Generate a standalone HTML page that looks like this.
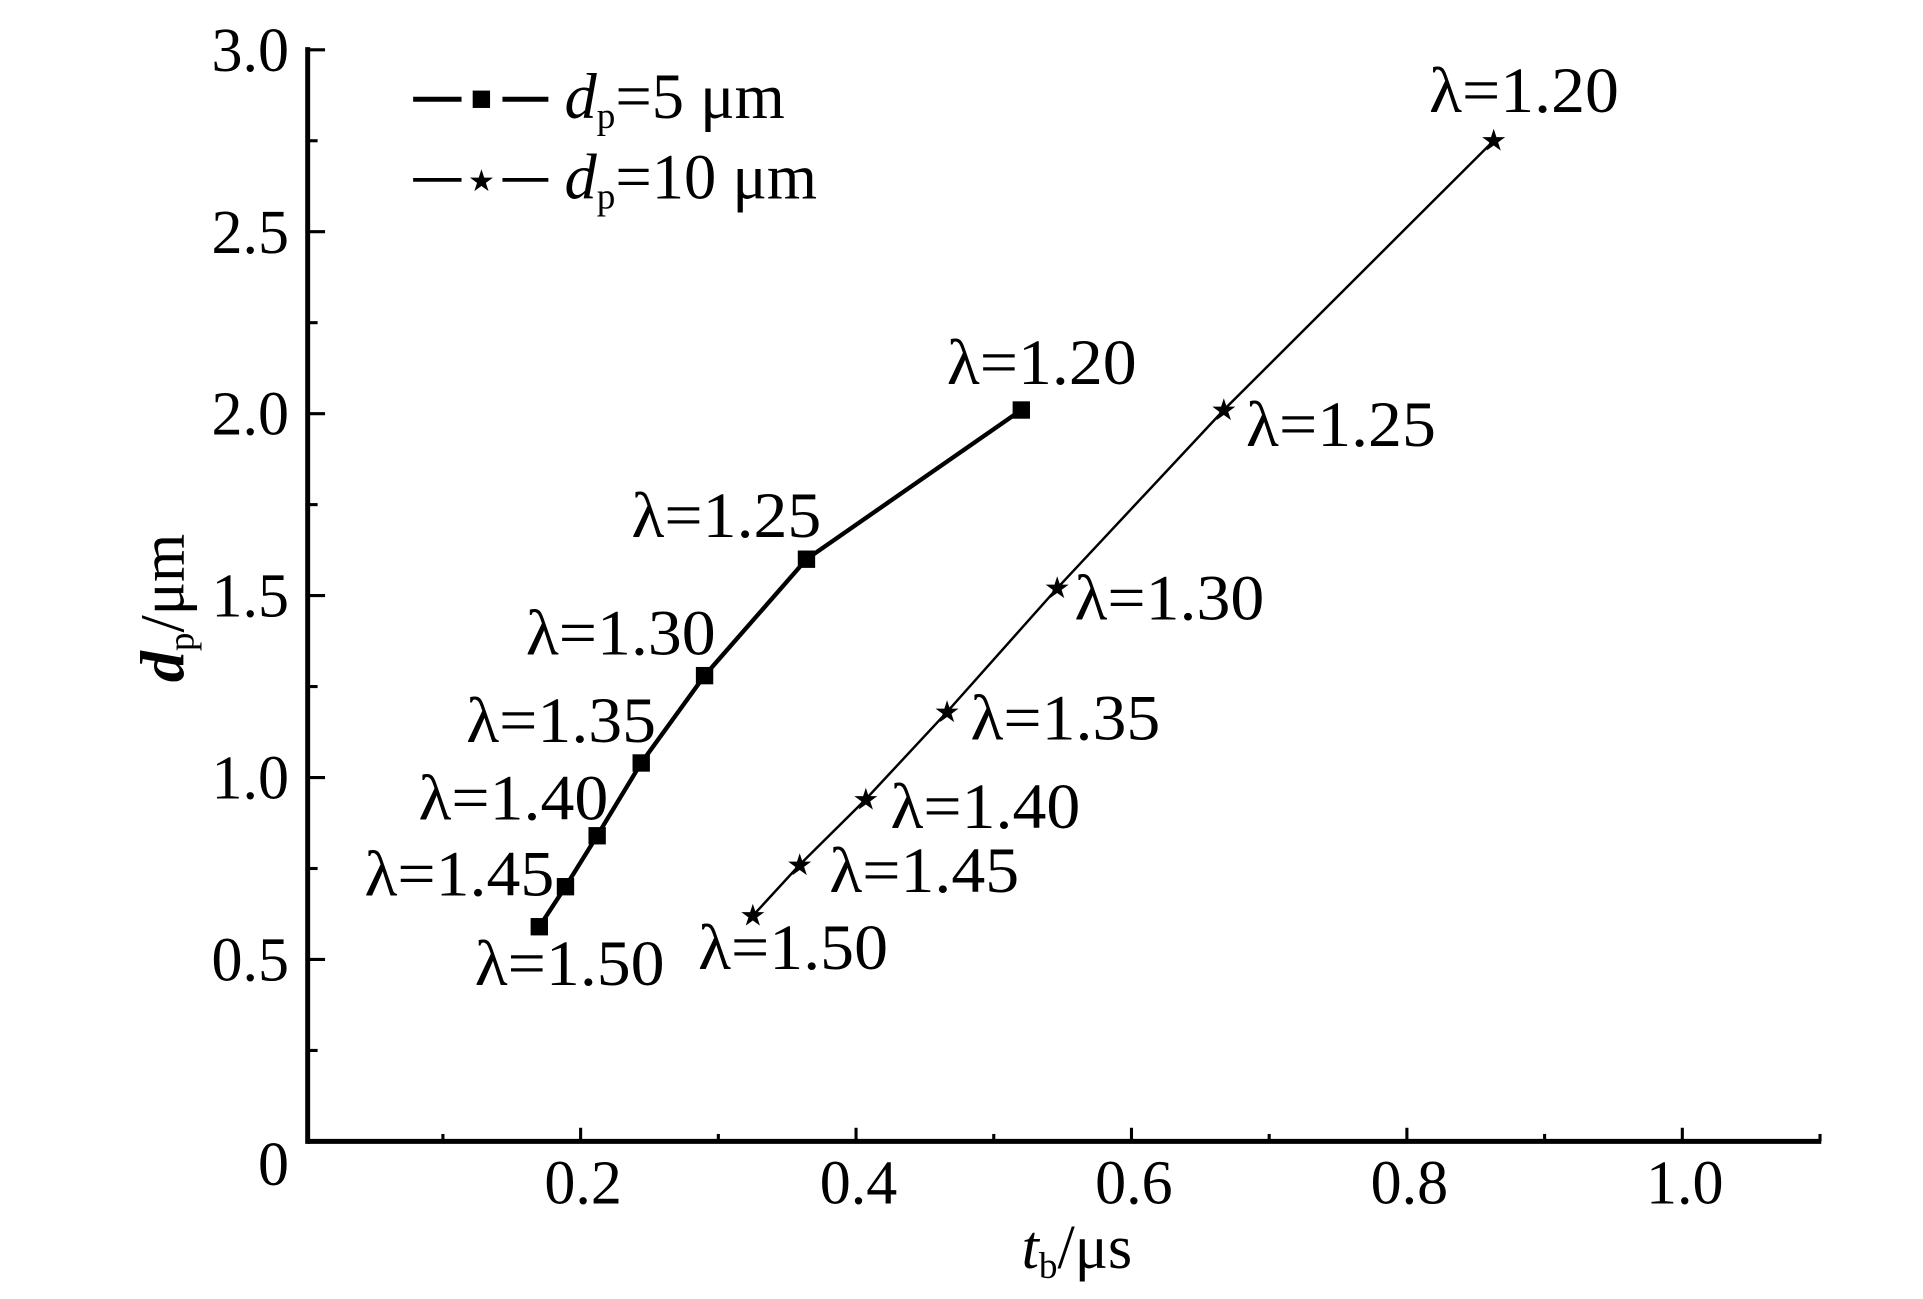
<!DOCTYPE html>
<html><head><meta charset="utf-8"><style>
html,body{margin:0;padding:0;background:#fff;}
svg{display:block;}
text{font-family:"Liberation Serif",serif;fill:#000;}
</style></head><body>
<svg id="chart" width="1923" height="1299" viewBox="0 0 1550 1047" xmlns="http://www.w3.org/2000/svg">
<g id="axes"></g>
<g id="plot"></g>
<g id="legend">
  <line x1="333" y1="80" x2="372" y2="80" stroke="#000" stroke-width="4"/>
  <line x1="405" y1="80" x2="442" y2="80" stroke="#000" stroke-width="4"/>
  <rect x="381" y="73" width="14" height="14" fill="#000"/>
  <text x="455" y="95" font-size="52"><tspan font-style="italic">d</tspan><tspan font-size="30" dy="8">p</tspan><tspan dy="-8">=5 μm</tspan></text>
  <line x1="333" y1="145" x2="372" y2="145" stroke="#000" stroke-width="3"/>
  <line x1="405" y1="145" x2="442" y2="145" stroke="#000" stroke-width="3"/>
  <text x="388" y="154" font-size="24" text-anchor="middle">★</text>
  <text x="455" y="160" font-size="52"><tspan font-style="italic">d</tspan><tspan font-size="30" dy="8">p</tspan><tspan dy="-8">=10 μm</tspan></text>
</g>
<text x="868" y="1022" font-size="50" text-anchor="middle"><tspan font-style="italic">t</tspan><tspan font-size="30" dy="8">b</tspan><tspan dy="-8">/μs</tspan></text>
<text transform="translate(148,490) rotate(-90)" font-size="50" text-anchor="middle"><tspan font-style="italic" font-weight="bold">d</tspan><tspan font-size="30" dy="8">p</tspan><tspan dy="-8">/μm</tspan></text>
</svg>
<script>
const xTicks = [0.2, 0.4, 0.6, 0.8, 1.0];
const xTickLabels = ["0.2", "0.4", "0.6", "0.8", "1.0"];
const yTicks = [0, 0.5, 1.0, 1.5, 2.0, 2.5, 3.0];
const yTickLabels = ["0", "0.5", "1.0", "1.5", "2.0", "2.5", "3.0"];
const lambdas = ["1.50", "1.45", "1.40", "1.35", "1.30", "1.25", "1.20"];
const s1x = [0.170, 0.189, 0.212, 0.244, 0.290, 0.364, 0.520];
const s1y = [0.59, 0.70, 0.84, 1.04, 1.28, 1.60, 2.01];
const s2x = [0.325, 0.359, 0.407, 0.466, 0.546, 0.667, 0.863];
const s2y = [0.62, 0.76, 0.94, 1.18, 1.52, 2.01, 2.75];

const X0 = 246, XS = 1110, Y0 = 920, YS = 293.3;
const sx = v => X0 + v * XS;
const sy = v => Y0 - v * YS;
const NS = "http://www.w3.org/2000/svg";
const mk = (t, a, p) => { const e = document.createElementNS(NS, t); for (const k in a) e.setAttribute(k, a[k]); p.appendChild(e); return e; };
const axes = document.getElementById('axes');
const plot = document.getElementById('plot');

let ax = mk('line', {x1: 248, y1: 920, x2: 1468, y2: 920, stroke: '#000', 'stroke-width': 4}, axes);


let ay = mk('line', {x1: 248, y1: 922, x2: 248, y2: 38, stroke: '#000', 'stroke-width': 4}, axes);


for (let v = 0.1; v <= 1.101; v += 0.1) {
  const major = Math.abs(v * 5 - Math.round(v * 5)) < 1e-6;
  const t = mk('line', {x1: sx(v), y1: 920, x2: sx(v), y2: major ? 909 : 914, stroke: '#000', 'stroke-width': 2.5}, axes);
  
  
}
xTicks.forEach((v, i) => {
  const t = mk('text', {x: sx(v) + 2, y: 970, 'font-size': 50, 'text-anchor': 'middle'}, axes);
  t.textContent = xTickLabels[i];
  
  
});
for (let v = 0.25; v <= 3.001; v += 0.25) {
  const major = Math.abs(v * 2 - Math.round(v * 2)) < 1e-6;
  const t = mk('line', {x1: 248, y1: sy(v), x2: major ? 262 : 256, y2: sy(v), stroke: '#000', 'stroke-width': 2.5}, axes);
  
  
}
yTicks.forEach((v, i) => {
  const t = mk('text', {x: 233, y: v === 0 ? 955 : sy(v) + 17, 'font-size': 50, 'text-anchor': 'end'}, axes);
  t.textContent = yTickLabels[i];
  
  
});

const off1 = [[-52, 47], [-162, 7], [-144, -13], [-141, -17], [-144, -17], [-141, -18], [-60, -21]];
const off2 = [[-44, 43], [24, 22], [20, 23], [19, 22], [14, 25], [18, 29], [-52, -23]];

function drawSeries(xs, ys, offs, name, width, marker) {
  const pts = xs.map((v, i) => sx(v) + ',' + sy(ys[i])).join(' ');
  const l = mk('polyline', {points: pts, fill: 'none', stroke: '#000', 'stroke-width': width}, plot);
  
  
  xs.forEach((v, i) => {
    const px = sx(v), py = sy(ys[i]);
    let m;
    if (marker === 'square') {
      m = mk('rect', {x: px - 7, y: py - 7, width: 14, height: 14, fill: '#000'}, plot);
    } else {
      m = mk('text', {x: px, y: py + 8, 'font-size': 24, 'text-anchor': 'middle'}, plot);
      m.textContent = '★';
    }
    
    
    const t = mk('text', {x: px + offs[i][0], y: py + offs[i][1], 'font-size': 52, textLength: 153, lengthAdjust: 'spacingAndGlyphs'}, plot);
    t.textContent = 'λ=' + lambdas[i];
    
    
  });
}
drawSeries(s1x, s1y, off1, 'series-5um', 3.5, 'square');
drawSeries(s2x, s2y, off2, 'series-10um', 2, 'star');
</script>
</body></html>
